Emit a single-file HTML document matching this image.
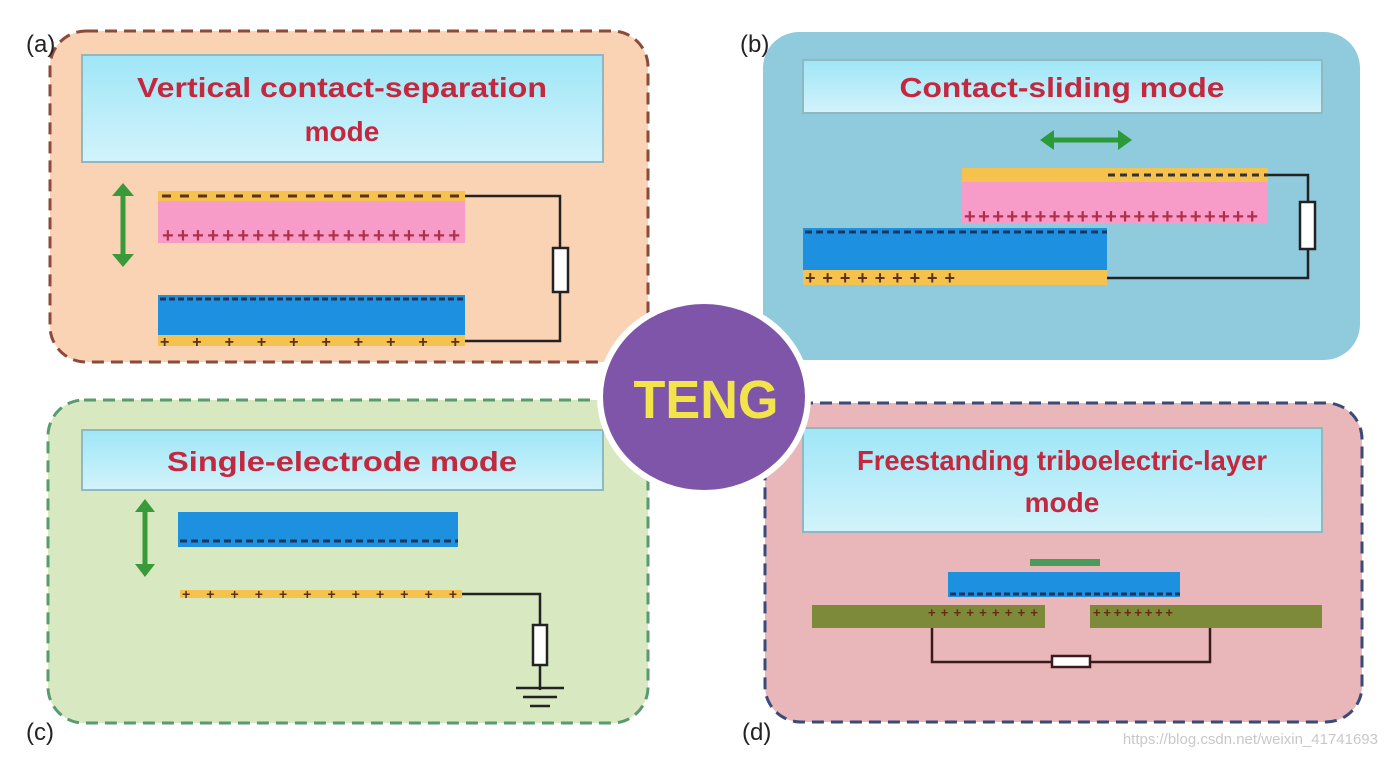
<!DOCTYPE html>
<html><head><style>
html,body{margin:0;padding:0;background:#fff;width:1385px;height:758px;overflow:hidden}
text{font-family:"Liberation Sans",sans-serif}
</style></head><body>
<svg width="1385" height="758" viewBox="0 0 1385 758" xmlns="http://www.w3.org/2000/svg">
<defs>
<linearGradient id="tb" x1="0" y1="0" x2="0" y2="1"><stop offset="0" stop-color="#9fe6f7"/><stop offset="1" stop-color="#d2f3fb"/></linearGradient>
</defs>
<!-- panel a -->
<rect x="50" y="31" width="598" height="331" rx="36" fill="#fad2b4" stroke="#8b4a3c" stroke-width="3" stroke-dasharray="12,7"/>
<rect x="82" y="55" width="521" height="107" fill="url(#tb)" stroke="#8fb8c0" stroke-width="2"/>
<text x="342" y="97" font-size="28" font-weight="bold" fill="#c3283f" text-anchor="middle" textLength="410" lengthAdjust="spacingAndGlyphs">Vertical contact-separation</text>
<text x="342" y="141" font-size="28" font-weight="bold" fill="#c3283f" text-anchor="middle">mode</text>
<rect x="158" y="191" width="307" height="10" fill="#f6c24e"/>
<line x1="162" y1="196" x2="465" y2="196" stroke="#5a3020" stroke-width="3" stroke-dasharray="9,9"/>
<rect x="158" y="201" width="307" height="42" fill="#f79bc8"/>
<text x="162" y="242" font-size="20" font-weight="bold" fill="#b0304a" textLength="298" lengthAdjust="spacing">++++++++++++++++++++</text>
<rect x="158" y="295" width="307" height="40" fill="#1e90e0"/>
<line x1="160" y1="299" x2="465" y2="299" stroke="#1a3560" stroke-width="3" stroke-dasharray="6,3"/>
<rect x="158" y="335" width="307" height="11" fill="#f6c24e"/>
<text x="160" y="347" font-size="16" font-weight="bold" fill="#5a3020" textLength="300" lengthAdjust="spacing">++++++++++</text>
<polyline points="465,196 560,196 560,341 465,341" fill="none" stroke="#222" stroke-width="2.5"/>
<rect x="553" y="248" width="15" height="44" fill="#fff" stroke="#222" stroke-width="2.5"/>
<line x1="123" y1="192" x2="123" y2="258" stroke="#3a9a3a" stroke-width="5"/>
<polygon points="112,196 123,183 134,196" fill="#3a9a3a"/><polygon points="112,254 123,267 134,254" fill="#3a9a3a"/>
<!-- panel b -->
<rect x="763" y="32" width="597" height="328" rx="36" fill="#8fcbdc"/>
<rect x="803" y="60" width="519" height="53" fill="url(#tb)" stroke="#8fb8c0" stroke-width="2"/>
<text x="1062" y="97" font-size="28" font-weight="bold" fill="#c3283f" text-anchor="middle" textLength="325" lengthAdjust="spacingAndGlyphs">Contact-sliding mode</text>
<line x1="1050" y1="140" x2="1122" y2="140" stroke="#2a9a3a" stroke-width="5"/>
<polygon points="1054,130 1040,140 1054,150" fill="#2a9a3a"/><polygon points="1118,130 1132,140 1118,150" fill="#2a9a3a"/>
<rect x="962" y="168" width="306" height="14" fill="#f6c24e"/>
<line x1="1108" y1="175" x2="1268" y2="175" stroke="#333" stroke-width="3" stroke-dasharray="7,5"/>
<rect x="962" y="182" width="306" height="42" fill="#f79bc8"/>
<text x="964" y="223" font-size="20" font-weight="bold" fill="#b0304a" textLength="294" lengthAdjust="spacing">+++++++++++++++++++++</text>
<rect x="803" y="228" width="304" height="42" fill="#1e90e0"/>
<line x1="805" y1="232" x2="1107" y2="232" stroke="#1a3560" stroke-width="3" stroke-dasharray="7,4"/>
<rect x="803" y="270" width="304" height="15" fill="#f6c24e"/>
<text x="805" y="284" font-size="18" font-weight="bold" fill="#5a3020" textLength="150" lengthAdjust="spacing">+++++++++</text>
<polyline points="1268,175 1308,175 1308,278 1107,278" fill="none" stroke="#222" stroke-width="2.5"/>
<rect x="1300" y="202" width="15" height="47" fill="#fff" stroke="#222" stroke-width="2.5"/>
<!-- panel c -->
<rect x="48" y="400" width="600" height="323" rx="36" fill="#d8e8c0" stroke="#5a9a70" stroke-width="3" stroke-dasharray="12,7"/>
<rect x="82" y="430" width="521" height="60" fill="url(#tb)" stroke="#8fb8c0" stroke-width="2"/>
<text x="342" y="471" font-size="28" font-weight="bold" fill="#c3283f" text-anchor="middle" textLength="350" lengthAdjust="spacingAndGlyphs">Single-electrode mode</text>
<rect x="178" y="512" width="280" height="35" fill="#1e90e0"/>
<line x1="180" y1="541" x2="458" y2="541" stroke="#1a3560" stroke-width="3" stroke-dasharray="7,4"/>
<rect x="180" y="590" width="282" height="8" fill="#f6c24e"/>
<text x="182" y="599" font-size="14" font-weight="bold" fill="#5a3020" textLength="275" lengthAdjust="spacing">++++++++++++</text>
<polyline points="462,594 540,594 540,690" fill="none" stroke="#222" stroke-width="2.5"/>
<rect x="533" y="625" width="14" height="40" fill="#fff" stroke="#222" stroke-width="2.5"/>
<line x1="516" y1="688" x2="564" y2="688" stroke="#222" stroke-width="2.5"/>
<line x1="523" y1="697" x2="557" y2="697" stroke="#222" stroke-width="2.5"/>
<line x1="530" y1="706" x2="550" y2="706" stroke="#222" stroke-width="2.5"/>
<line x1="145" y1="508" x2="145" y2="568" stroke="#3a9a3a" stroke-width="5"/>
<polygon points="135,512 145,499 155,512" fill="#3a9a3a"/><polygon points="135,564 145,577 155,564" fill="#3a9a3a"/>
<!-- panel d -->
<rect x="765" y="403" width="597" height="319" rx="36" fill="#e9b6b9" stroke="#3a4a7a" stroke-width="3" stroke-dasharray="12,7"/>
<rect x="803" y="428" width="519" height="104" fill="url(#tb)" stroke="#8fb8c0" stroke-width="2"/>
<text x="1062" y="470" font-size="28" font-weight="bold" fill="#c3283f" text-anchor="middle" textLength="410" lengthAdjust="spacingAndGlyphs">Freestanding triboelectric-layer</text>
<text x="1062" y="512" font-size="28" font-weight="bold" fill="#c3283f" text-anchor="middle">mode</text>
<rect x="1030" y="559" width="70" height="7" fill="#4a9a5a"/>
<rect x="948" y="572" width="232" height="25" fill="#1e90e0"/>
<line x1="950" y1="594" x2="1180" y2="594" stroke="#1a3560" stroke-width="3" stroke-dasharray="6,3"/>
<rect x="812" y="605" width="233" height="23" fill="#7c8a3a"/>
<rect x="1090" y="605" width="232" height="23" fill="#7c8a3a"/>
<text x="928" y="617" font-size="13" font-weight="bold" fill="#6a2a10" textLength="110" lengthAdjust="spacing">+++++++++</text>
<text x="1093" y="617" font-size="13" font-weight="bold" fill="#6a2a10" textLength="80" lengthAdjust="spacing">++++++++</text>
<polyline points="932,628 932,662 1210,662 1210,628" fill="none" stroke="#3a1a1a" stroke-width="2.5"/>
<rect x="1052" y="656" width="38" height="11" fill="#fff" stroke="#3a1a1a" stroke-width="2.5"/>
<!-- TENG -->
<ellipse cx="704" cy="397" rx="104" ry="96" fill="#7e55a8" stroke="#fff" stroke-width="6"/>
<text x="706" y="418" font-size="54" font-weight="bold" fill="#f2e44a" text-anchor="middle" textLength="145" lengthAdjust="spacingAndGlyphs">TENG</text>
<!-- labels -->
<text x="26" y="52" font-size="24" fill="#222">(a)</text>
<text x="740" y="52" font-size="24" fill="#222">(b)</text>
<text x="26" y="740" font-size="24" fill="#222">(c)</text>
<text x="742" y="740" font-size="24" fill="#222">(d)</text>
<text x="1378" y="744" font-size="15" fill="#c8c8c8" text-anchor="end">https://blog.csdn.net/weixin_41741693</text>
</svg>
</body></html>
